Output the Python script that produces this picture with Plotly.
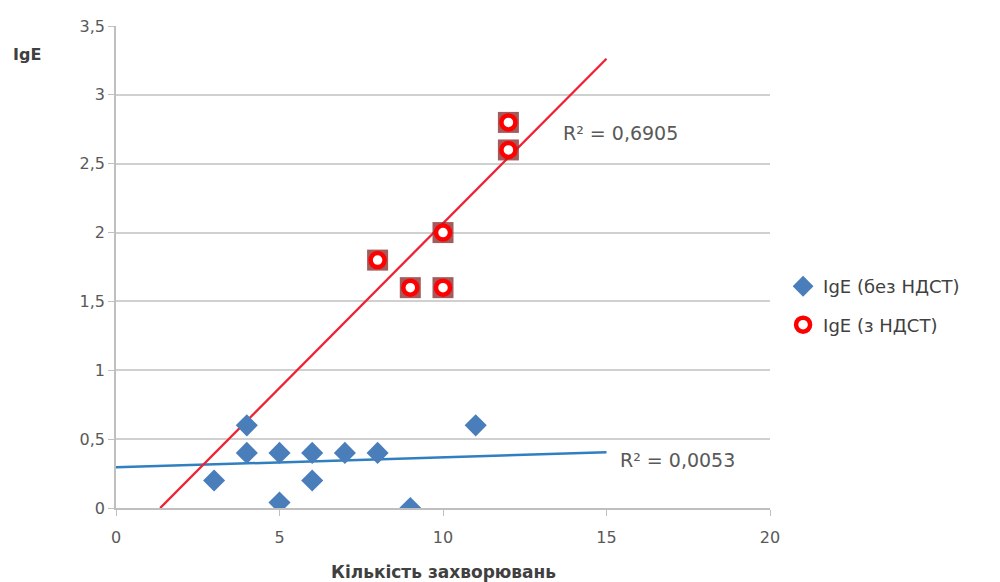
import numpy as np
import plotly.graph_objects as go

# Data
blue_x = [3, 4, 4, 5, 5, 6, 6, 7, 8, 9, 11]
blue_y = [0.2, 0.6, 0.4, 0.4, 0.04, 0.4, 0.2, 0.4, 0.4, 0.0, 0.6]
red_x = [8, 9, 10, 10, 12, 12]
red_y = [1.8, 1.6, 1.6, 2.0, 2.6, 2.8]

# Trendline coefficients (slope, intercept) and ranges
blue_trend = (0.0073, 0.295)
blue_trend_range = (0, 15)
red_trend = (0.239, -0.323)
red_trend_range = (1.35, 15)

r2_labels = ["R² = 0,6905", "R² = 0,0053"]
r2_pos = [(13.6, 2.72), (15.35, 0.35)]
y_ticks = [0, 0.5, 1, 1.5, 2, 2.5, 3, 3.5]
y_tick_labels = ["0", "0,5", "1", "1,5", "2", "2,5", "3", "3,5"]
x_ticks = [0, 5, 10, 15, 20]
series_names = ["IgE (без НДСТ)", "IgE (з НДСТ)"]

FONT = "DejaVu Sans"
GRAY = "#595959"

fig = go.Figure()

bx = np.linspace(*blue_trend_range, 50)
fig.add_trace(go.Scatter(x=bx, y=blue_trend[0] * bx + blue_trend[1], mode="lines",
                         line=dict(color="#2f7fc1", width=2.5), showlegend=False,
                         hoverinfo="skip"))
rx = np.linspace(*red_trend_range, 50)
fig.add_trace(go.Scatter(x=rx, y=red_trend[0] * rx + red_trend[1], mode="lines",
                         line=dict(color="#ee2233", width=2.3), showlegend=False,
                         hoverinfo="skip"))

fig.add_trace(go.Scatter(x=blue_x, y=blue_y, mode="markers", name=series_names[0],
                         legendgroup="a",
                         marker=dict(symbol="diamond", size=17, color="#4a7ebb",
                                     line=dict(width=0))))
fig.add_trace(go.Scatter(x=red_x, y=red_y, mode="markers", showlegend=False,
                         marker=dict(symbol="square", size=21, color="rgba(140,50,50,0.8)",
                                     line=dict(width=0))))
fig.add_trace(go.Scatter(x=red_x, y=red_y, mode="markers", name=series_names[1],
                         legendgroup="b",
                         marker=dict(symbol="circle", size=14, color="white",
                                     line=dict(color="#ff0000", width=4.5))))

for (px_, py_), lab in zip(r2_pos, r2_labels):
    fig.add_annotation(x=px_, y=py_, text=lab, showarrow=False, xanchor="left",
                       font=dict(family=FONT, size=19, color=GRAY))

fig.add_annotation(xref="paper", yref="paper", x=-0.136, y=0.94, text="<b>IgE</b>",
                   showarrow=False, xanchor="center", yanchor="middle",
                   font=dict(family=FONT, size=16, color="#404040"))
fig.add_annotation(xref="paper", yref="paper", x=0.5, y=-0.132, text="<b>Кількість захворювань</b>",
                   showarrow=False, xanchor="center", yanchor="middle",
                   font=dict(family=FONT, size=17, color="#404040"))

fig.update_xaxes(range=[0, 20], tickvals=x_ticks, showgrid=False, zeroline=False,
                 showline=True, linecolor="#bfbfbf", linewidth=1.5,
                 ticks="outside", ticklen=6, tickcolor="#bfbfbf", ticklabelstandoff=8,
                 tickfont=dict(family=FONT, size=16, color=GRAY))
fig.update_yaxes(range=[0, 3.5], tickvals=y_ticks, ticktext=y_tick_labels,
                 showgrid=True, gridcolor="#d0d0d0", gridwidth=1.5, zeroline=False,
                 showline=True, linecolor="#bfbfbf", linewidth=1.5,
                 ticks="outside", ticklen=6, tickcolor="#bfbfbf",
                 tickfont=dict(family=FONT, size=16, color=GRAY))

fig.update_layout(
    width=1000, height=582,
    margin=dict(l=116, r=230, t=26, b=74),
    plot_bgcolor="white", paper_bgcolor="white",
    legend=dict(x=1.02, y=0.42, xanchor="left", yanchor="middle",
                traceorder="grouped", tracegroupgap=12,
                font=dict(family=FONT, size=18, color="#404040")),
)

fig.write_html("out.html")
